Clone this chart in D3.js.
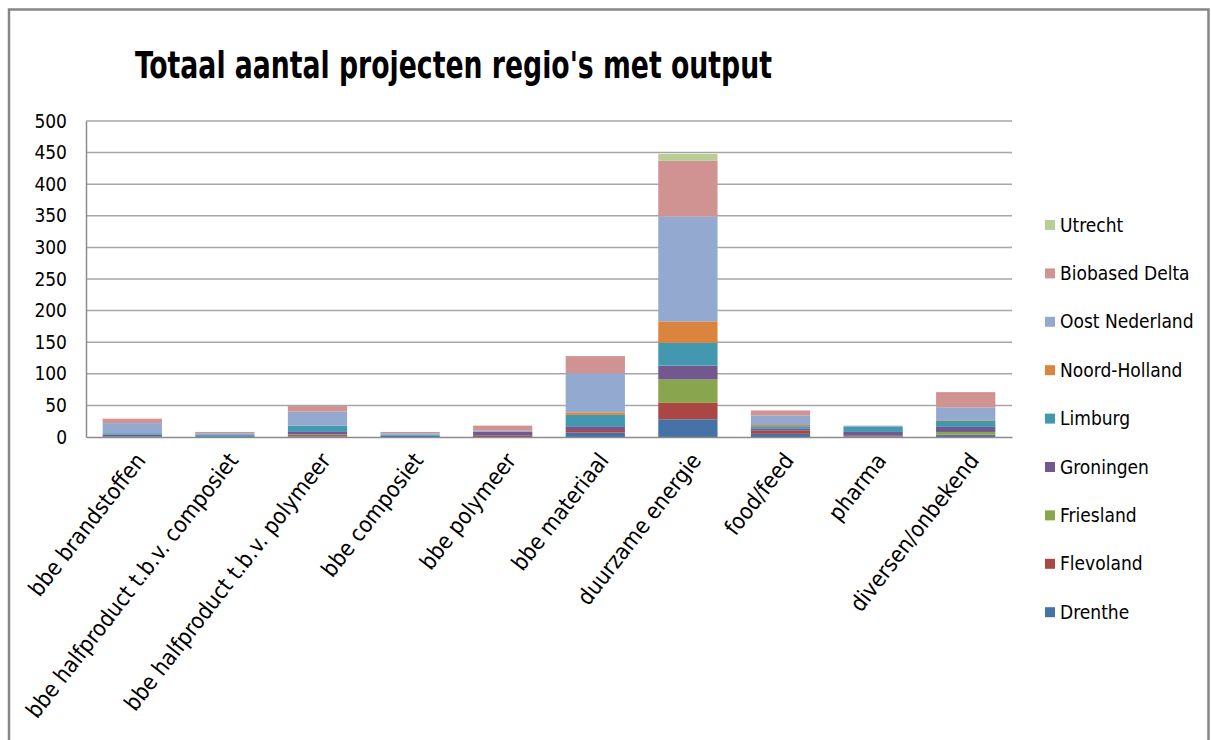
<!DOCTYPE html>
<html>
<head>
<meta charset="utf-8">
<script src="https://d3js.org/d3.v7.min.js"></script>
<style>
  body { margin: 0; background: #fff; }
  svg text { font-family: "Liberation Sans Narrow", "DejaVu Sans Condensed", "Liberation Sans", sans-serif; }
</style>
</head>
<body>
<svg id="chart" width="1211" height="740"></svg>
<script>
var categories = ["bbe brandstoffen", "bbe halfproduct t.b.v. composiet", "bbe halfproduct t.b.v. polymeer",
  "bbe composiet", "bbe polymeer", "bbe materiaal", "duurzame energie", "food/feed", "pharma", "diversen/onbekend"];

var regions = ["Drenthe", "Flevoland", "Friesland", "Groningen", "Limburg", "Noord-Holland", "Oost Nederland", "Biobased Delta", "Utrecht"];
var colors = ["#4572A7", "#AA4643", "#89A54E", "#71588F", "#4198AF", "#DB843D", "#93A9CF", "#D19392", "#B9CD96"];

var drenthe      = [1, 0, 1, 2, 0, 7, 28, 5, 1, 3];
var flevoland    = [0, 0, 2, 0, 2, 4, 26, 5, 1, 1];
var friesland    = [0, 0, 1, 0, 0, 0, 37, 0, 0, 4];
var groningen    = [3, 0, 4, 0, 6, 6, 22, 3, 6, 8];
var limburg      = [2, 3, 10, 2, 0, 18, 36, 4, 8, 10];
var noordHolland = [0, 0, 0, 0, 0, 4, 34, 2, 0, 1];
var oostNL       = [16, 3, 22, 2, 2, 62, 166, 15, 2, 20];
var biobased     = [7, 2, 9, 2, 8, 27, 88, 8, 0, 24];
var utrecht      = [0, 0, 0, 0, 0, 0, 11, 0, 0, 0];

var yTicks = [0, 50, 100, 150, 200, 250, 300, 350, 400, 450, 500];

var series = [drenthe, flevoland, friesland, groningen, limburg, noordHolland, oostNL, biobased, utrecht];

var data = categories.map(function(c, i) {
  var d = {cat: c};
  regions.forEach(function(r, j) { d[r] = series[j][i]; });
  return d;
});

var svg = d3.select("svg#chart"),
    margin = {top: 121, right: 199, bottom: 303, left: 86};
var width = +svg.attr("width") - margin.left - margin.right,
    height = +svg.attr("height") - margin.top - margin.bottom;

// chart frame
svg.append("path")
    .attr("d", "M9,740V9.5H1208.5V740")
    .attr("fill", "none")
    .attr("stroke", "#868686")
    .attr("stroke-width", 2.5);

svg.append("text")
    .attr("x", 135)
    .attr("y", 78)
    .attr("font-size", 38)
    .attr("font-weight", "bold")
    .attr("textLength", 637)
    .attr("lengthAdjust", "spacingAndGlyphs")
    .text("Totaal aantal projecten regio's met output");

var x = d3.scaleBand().domain(categories).range([0, width]).paddingInner(0.36).paddingOuter(0.18);
var y = d3.scaleLinear().domain([0, 500]).range([height, 0]);
var z = d3.scaleOrdinal().domain(regions).range(colors);

var g = svg.append("g").attr("transform", "translate(" + margin.left + "," + margin.top + ")");

// gridlines
g.append("g")
  .selectAll("line")
  .data(yTicks.slice(1))
  .enter().append("line")
    .attr("x1", 0).attr("x2", width)
    .attr("y1", function(d) { return y(d); })
    .attr("y2", function(d) { return y(d); })
    .attr("stroke", "#a6a6a6")
    .attr("stroke-width", 1.5);

var stack = d3.stack().keys(regions)(data);

g.append("g")
  .selectAll("g")
  .data(stack)
  .enter().append("g")
    .attr("fill", function(d) { return z(d.key); })
  .selectAll("rect")
  .data(function(d) { return d; })
  .enter().append("rect")
    .attr("x", function(d) { return x(d.data.cat); })
    .attr("y", function(d) { return y(d[1]); })
    .attr("height", function(d) { return y(d[0]) - y(d[1]); })
    .attr("width", x.bandwidth());

// y axis
var yAxis = g.append("g")
    .call(d3.axisLeft(y).tickValues(yTicks).tickSize(0).tickPadding(19));
yAxis.select(".domain").attr("stroke", "#8c8c8c").attr("stroke-width", 1.5);
yAxis.selectAll("text").attr("font-size", 19).attr("fill", "#000");

// x axis
var xAxis = g.append("g")
    .attr("transform", "translate(0," + height + ")")
    .call(d3.axisBottom(x).tickSize(0));
xAxis.select(".domain").attr("stroke", "#8c8c8c").attr("stroke-width", 1.5);
xAxis.selectAll("text")
    .attr("font-size", 22.5)
    .attr("fill", "#000")
    .attr("text-anchor", "end")
    .attr("dx", 0).attr("dy", 0)
    .attr("transform", "translate(12,22) rotate(-52)");

// legend
var legend = svg.append("g")
  .selectAll("g")
  .data(regions.slice().reverse())
  .enter().append("g")
    .attr("transform", function(d, i) { return "translate(1045," + (225 + i * 48.4) + ")"; });

legend.append("rect")
    .attr("x", 0).attr("y", -5)
    .attr("width", 10).attr("height", 10)
    .attr("fill", z);

legend.append("text")
    .attr("x", 15)
    .attr("dy", "0.35em")
    .attr("font-size", 19)
    .text(function(d) { return d; });
</script>
</body>
</html>
